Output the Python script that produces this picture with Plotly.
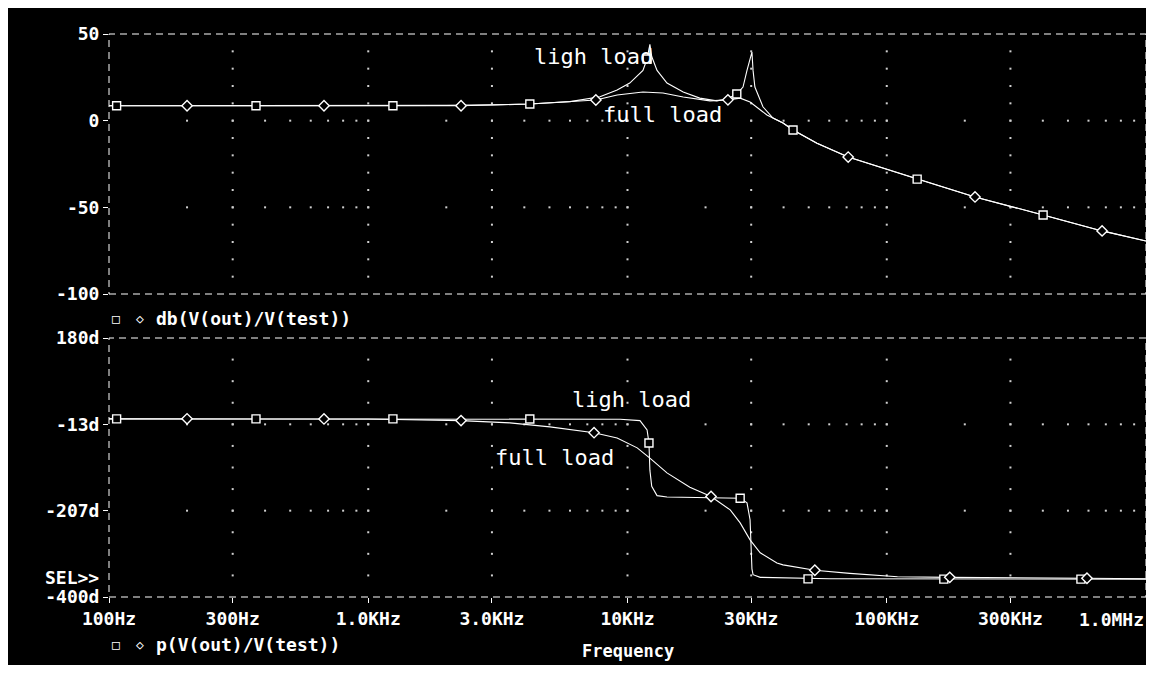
import numpy as np
import plotly.graph_objects as go

# ---------------- data ----------------
mag_light_f = [100, 1000, 2000, 3000, 4200, 6000, 7830, 9120, 10200, 11470, 11900, 12200, 12400,
               13000, 14200, 16400, 19000, 22100, 24200, 26400, 27900, 28900, 30200, 30500, 31000,
               33300, 36400, 39800, 43500, 53800, 71000, 131000, 219000, 401000, 677000, 1000000]
mag_light_db = [8.6, 8.6, 8.8, 9.1, 9.6, 11.0, 13.8, 17.7, 21.7, 29.0, 35.6, 44.0, 37.0,
                29.0, 21.7, 16.5, 13.0, 11.4, 12.5, 15.4, 19.4, 29.0, 39.6, 29.0, 19.4,
                8.0, 1.5, -1.4, -5.4, -13.0, -21.0, -33.7, -44.0, -54.4, -63.6, -69.4]

mag_full_f = [100, 1000, 2280, 4200, 7550, 9120, 11470, 13700, 16400, 20800, 24400, 27200,
              29700, 34500, 39800, 43500, 53800, 71000, 131000, 219000, 401000, 677000, 1000000]
mag_full_db = [8.6, 8.6, 8.6, 9.6, 11.9, 14.8, 16.5, 16.0, 13.7, 11.4, 12.0, 13.0,
               10.8, 3.3, -1.4, -5.4, -13.0, -21.0, -33.7, -44.0, -54.4, -63.6, -69.4]

ph_light_f = [100, 1000, 5000, 9360, 11170, 11900, 12100, 12200, 12400, 13000, 14200, 20000,
              26400, 27200, 28900, 29700, 30200, 30500, 32500, 43500, 60000, 1000000]
ph_light_deg = [-1, -1, -1.5, -2, -5, -26, -55, -116, -152, -173, -176, -177,
                -178, -179, -189, -227, -337, -350, -356, -358, -359, -360]

ph_full_f = [100, 1000, 2280, 3520, 5020, 7430, 9120, 10900, 12200, 14200, 17400, 21000,
             24900, 27200, 29700, 32500, 37700, 39800, 52800, 72000, 110000, 175000, 592000, 1000000]
ph_full_deg = [-1, -1.5, -5, -10, -19, -32, -44, -66, -89, -122, -154, -175,
               -205, -234, -272, -301, -324, -328, -340, -347, -354.5, -356, -358, -359]

# trace symbols (markers placed along the traces)
mag_light_mk_f = [107, 369, 1245, 4200, 11900, 26400, 43500, 131000, 401000]
mag_light_mk_db = [8.6, 8.6, 8.6, 9.6, 35.6, 15.4, -5.4, -33.7, -54.4]
mag_full_mk_f = [200, 675, 2280, 7550, 24400, 71000, 219000, 677000]
mag_full_mk_db = [8.6, 8.6, 8.6, 11.9, 12.0, -21.0, -44.0, -63.6]
ph_light_mk_f = [107, 369, 1245, 4200, 12100, 27200, 49700, 166000, 561000]
ph_light_mk_deg = [-1, -1, -1, -1.5, -55, -179, -359.5, -360, -360]
ph_full_mk_f = [200, 675, 2280, 7430, 21000, 52800, 175000, 592000]
ph_full_mk_deg = [-1, -1.2, -5, -32, -175, -340, -356, -358]

x_tickvals = [100, 300, 1000, 3000, 10000, 30000, 100000, 300000]
x_ticktext = ["100Hz", "300Hz", "1.0KHz", "3.0KHz", "10KHz", "30KHz", "100KHz", "300KHz"]
mag_tickvals = [50, 0, -50, -100]
mag_ticktext = ["50", "0", "-50", "-100"]
ph_tickvals = [180, -13.333, -206.667, -400]
ph_ticktext = ["180d", "-13d", "-207d", "-400d"]

# ---------------- figure ----------------
W = "#ffffff"
LINE = dict(color=W, width=1.1)
BOLD = dict(family="DejaVu Sans Mono", size=18, color=W, weight="bold")
THIN = dict(family="DejaVu Sans Mono", size=22, color=W)

fig = go.Figure()

# dotted grid (decoration)
major_x = [300, 1000, 3000, 10000, 30000, 100000, 300000]
minor_x = [k * 10 ** n for n in range(2, 6) for k in range(2, 11) if k * 10 ** n < 1e6]
gx, gy = [], []
for xv in major_x:
    for yv in range(-90, 50, 10):
        gx.append(xv); gy.append(yv)
for yv in [0, -50]:
    for xv in minor_x:
        gx.append(xv); gy.append(yv)
fig.add_trace(go.Scatter(x=gx, y=gy, mode="markers", xaxis="x", yaxis="y", hoverinfo="skip",
                         marker=dict(size=2, color="#d0d0d0", symbol="square")))
gx2, gy2 = [], []
for xv in major_x:
    for i in range(1, 12):
        gx2.append(xv); gy2.append(180 - 580 / 12 * i)
for yv in [ph_tickvals[1], ph_tickvals[2]]:
    for xv in minor_x:
        gx2.append(xv); gy2.append(yv)
fig.add_trace(go.Scatter(x=gx2, y=gy2, mode="markers", xaxis="x2", yaxis="y2", hoverinfo="skip",
                         marker=dict(size=2, color="#d0d0d0", symbol="square")))

def curve(f, v, xa, ya):
    fig.add_trace(go.Scatter(x=f, y=v, mode="lines", line=LINE, xaxis=xa, yaxis=ya, hoverinfo="skip"))

def marks(f, v, sym, xa, ya):
    fig.add_trace(go.Scatter(x=f, y=v, mode="markers", xaxis=xa, yaxis=ya, hoverinfo="skip",
                             marker=dict(symbol=sym, size=8, color="#000000",
                                         line=dict(color=W, width=1.4))))

curve(mag_light_f, mag_light_db, "x", "y")
curve(mag_full_f, mag_full_db, "x", "y")
curve(ph_light_f, ph_light_deg, "x2", "y2")
curve(ph_full_f, ph_full_deg, "x2", "y2")
marks(mag_light_mk_f, mag_light_mk_db, "square", "x", "y")
marks(mag_full_mk_f, mag_full_mk_db, "diamond", "x", "y")
marks(ph_light_mk_f, ph_light_mk_deg, "square", "x2", "y2")
marks(ph_full_mk_f, ph_full_mk_deg, "diamond", "x2", "y2")

ax_common = dict(showgrid=False, zeroline=False, showline=False, color=W, tickfont=BOLD,
                 ticks="outside", ticklen=5, tickcolor=W, tickwidth=1)

top_lo = (597 - 294) / 563
bot_hi = (597 - 338) / 563

# the page adds an 8px body margin; keep the figure inside the window so no scrollbars appear
fig.update_layout(
    width=1138, height=657,
    paper_bgcolor="#000000", plot_bgcolor="#000000",
    margin=dict(l=101, r=0, t=26, b=68),
    showlegend=False,
    xaxis=dict(type="log", range=[2, 6], domain=[0, 1], anchor="y", showticklabels=False,
               showgrid=False, zeroline=False, showline=False, ticks=""),
    yaxis=dict(range=[-100, 50], domain=[top_lo, 1], anchor="x", tickvals=mag_tickvals,
               ticktext=mag_ticktext, **ax_common),
    xaxis2=dict(type="log", range=[2, 6], domain=[0, 1], anchor="y2", tickvals=x_tickvals,
                ticktext=x_ticktext, **ax_common),
    yaxis2=dict(range=[-400, 180], domain=[0, bot_hi], anchor="x2", tickvals=ph_tickvals,
                ticktext=ph_ticktext, **ax_common),
)

# dashed frames
for xr, yr in [("x domain", "y domain"), ("x2 domain", "y2 domain")]:
    fig.add_shape(type="rect", xref=xr, yref=yr, x0=0, x1=1, y0=0, y1=1,
                  line=dict(color=W, width=1, dash="7px,5px"), layer="above")

# page-pixel -> paper conversion (plot area spans page x 109..1146, y 34..597)
def px_x(p):
    return (p - 109) / 1037
def px_y(p):
    return (597 - p) / 563

ann = []
# curve labels
ann.append(dict(x=np.log10(4280), y=37.3, xref="x", yref="y", text="ligh load", font=THIN,
                showarrow=False, xanchor="left", yanchor="middle"))
ann.append(dict(x=np.log10(7900), y=3.3, xref="x", yref="y", text="full load", font=THIN,
                showarrow=False, xanchor="left", yanchor="middle"))
ann.append(dict(x=np.log10(6000), y=43.4, xref="x2", yref="y2", text="ligh load", font=THIN,
                showarrow=False, xanchor="left", yanchor="middle"))
ann.append(dict(x=np.log10(3030), y=-88.7, xref="x2", yref="y2", text="full load", font=THIN,
                showarrow=False, xanchor="left", yanchor="middle"))
# trace names
SYM = dict(family="DejaVu Sans Mono", size=13, color=W)
for ypx, name in [(318, "db(V(out)/V(test))"), (644, "p(V(out)/V(test))")]:
    ann.append(dict(x=px_x(116), y=px_y(ypx), xref="paper", yref="paper", text="□", font=SYM,
                    showarrow=False, xanchor="center", yanchor="middle"))
    ann.append(dict(x=px_x(140), y=px_y(ypx), xref="paper", yref="paper", text="◇", font=SYM,
                    showarrow=False, xanchor="center", yanchor="middle"))
    ann.append(dict(x=px_x(154), y=px_y(ypx), xref="paper", yref="paper", text=name, font=BOLD,
                    showarrow=False, xanchor="left", yanchor="middle"))
ann.append(dict(x=px_x(628), y=px_y(651), xref="paper", yref="paper", text="Frequency",
                font=dict(family="DejaVu Sans Mono", size=17, color=W, weight="bold"),
                showarrow=False, xanchor="center", yanchor="middle"))
ann.append(dict(x=px_x(101), y=px_y(577), xref="paper", yref="paper", text="SEL>>",
                font=BOLD, showarrow=False, xanchor="right", yanchor="middle"))
ann.append(dict(x=1, y=px_y(619), xref="paper", yref="paper", text="1.0MHz",
                font=BOLD, showarrow=False, xanchor="right", yanchor="middle"))
fig.update_layout(annotations=ann)

fig.write_html("out.html")
